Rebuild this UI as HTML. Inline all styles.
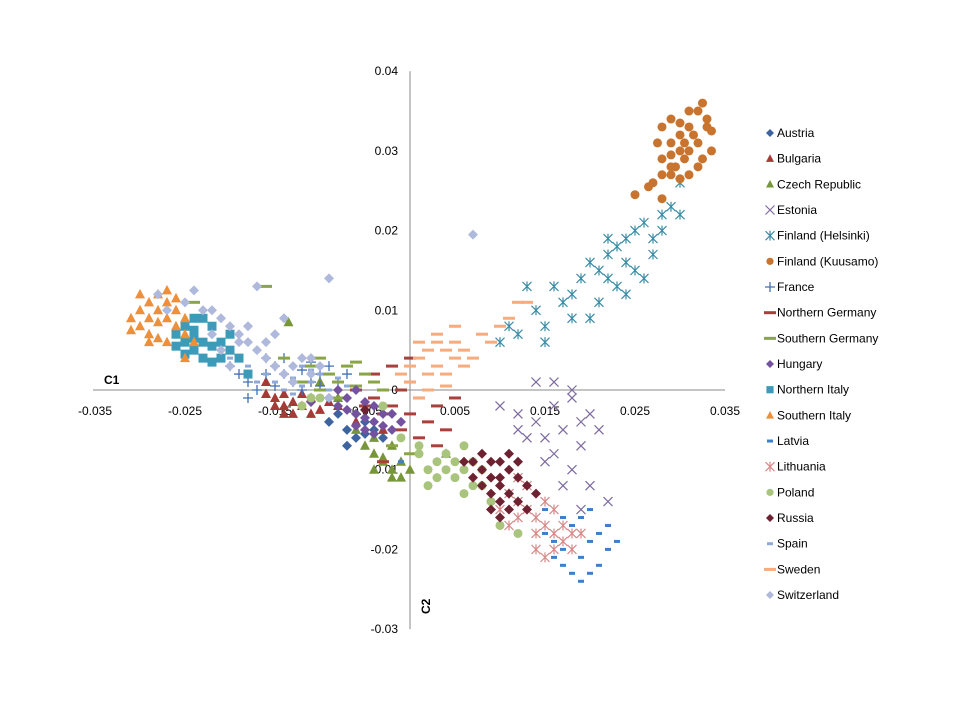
<!DOCTYPE html>
<html><head><meta charset="utf-8"><style>
html,body{margin:0;padding:0;background:#fff;width:960px;height:720px;overflow:hidden;font-family:"Liberation Sans",sans-serif}
svg text{font-family:"Liberation Sans",sans-serif;font-size:12px;fill:#000}
</style></head><body>
<svg id="chart" width="960" height="720" xmlns="http://www.w3.org/2000/svg"></svg>
<script>
const xTicks=[-0.035,-0.025,-0.015,-0.005,0.005,0.015,0.025,0.035];
const xTickLabels=["-0.035","-0.025","-0.015","-0.005","0.005","0.015","0.025","0.035"];
const yTicks=[0.04,0.03,0.02,0.01,0,-0.01,-0.02,-0.03];
const yTickLabels=["0.04","0.03","0.02","0.01","0","-0.01","-0.02","-0.03"];
const seriesNames=["Austria","Bulgaria","Czech Republic","Estonia","Finland (Helsinki)","Finland (Kuusamo)","France","Northern Germany","Southern Germany","Hungary","Northern Italy","Southern Italy","Latvia","Lithuania","Poland","Russia","Spain","Sweden","Switzerland"];
// values in units of 0.001
const austria=[[-7,-5],[-6,-6],[-5,-4],[-8,-3],[-4,-5],[-6,-3],[-9,-4],[-3,-6],[-7,-7],[-5,-5.5]];
const bulgaria=[[-15,-1],[-14,-2],[-13,-1.5],[-16,-0.5],[-12,-2],[-11,-1],[-14,-0.5],[-13,-3],[-10,-2.5],[-15,-2],[-12,-0.5],[-9,-1.5],[-11,-3],[-8,-2],[-6,-4],[-3,-5],[-16,1],[-14,-3]];
const czech=[[-5,-7],[-4,-8],[-3,-9],[-2,-10],[-1,-9],[-4,-6],[-2,-7],[-6,-5],[-13.5,8.5],[-1,-11],[0,-10],[-3,-8.5],[-8,-1],[-10,1],[4,-8],[-2,-11],[-4,-10]];
const estonia=[[10,-2],[12,-3],[14,-4],[16,-2],[18,0],[17,-5],[15,-6],[19,-4],[13,-6],[16,-8],[18,-10],[20,-12],[19,-7],[17,-12],[15,-9],[21,-5],[14,1],[16,1],[22,-14],[12,-5],[19,-15],[18,-1],[20,-3]];
const finHelsinki=[[12,7],[14,10],[15,8],[17,11],[18,12],[19,14],[20,16],[21,15],[22,17],[23,18],[24,19],[25,20],[26,21],[27,19],[28,22],[29,23],[30,22],[21,11],[23,13],[25,15],[27,17],[16,13],[18,9],[20,9],[22,14],[24,12],[26,14],[28,20],[10,6],[11,8],[13,13],[15,6],[30,26],[24,16],[22,19]];
const finKuusamo=[[25,24.5],[26.5,25.5],[27,26],[28,24],[29,27],[29.5,28],[30.5,29],[31,30],[32,31],[33,33],[33.5,32.5],[32.5,36],[32,35],[31,33],[30,32],[29,31],[28,29],[29,29.5],[30,30],[30.5,31],[31.5,32],[32.5,29],[33.5,30],[28,33],[29,34],[30,26.5],[31,27],[32,28],[27.5,31],[30,33.5],[31,35],[29,28],[33,34],[28,27]];
const france=[[-18,1],[-16,2],[-15,3],[-14,2],[-13,1],[-12,2.5],[-11,1],[-10,2],[-9,3],[-8,1],[-17,0],[-19,2],[-15,0.5],[-12,0],[-10,0.5],[-7,2],[-14,4],[-16,4],[-20,3],[-11,3.5],[-18,-1]];
const nGermany=[[-6,0],[-4,-1],[-2,-2],[0,-3],[2,-4],[-1,0],[1,-1],[3,-2],[-3,-3],[0,1],[-2,3],[4,-5],[2,0],[-5,-2],[1,-6],[-1,-5],[5,-1],[0,4],[-4,2],[3,-7],[-3,-9]];
const sGermany=[[-12,1],[-10,0],[-9,2],[-8,1],[-7,3],[-6,0.5],[-5,2],[-11,3],[-8,-1],[-4,1],[-3,0],[-14,4],[-24,11],[-16,13],[-10,4],[-6,3.5],[-2,-7],[0,-8]];
const hungary=[[-9,-1],[-8,-2],[-7,-2.5],[-6,-3],[-5,-3.5],[-4,-4],[-3,-4.5],[-2,-5],[-7,-1],[-6,0],[-5,-1.5],[-4,-2],[-3,-3],[-8,0],[-5,-5],[-2,-3],[-1,-4],[-11,-1.5],[-6,-4.5],[-4,-5.5]];
const nItaly=[[-26,7],[-25,6],[-24,5],[-23,4],[-25,8],[-24,7.5],[-23,6],[-22,5.5],[-21,6],[-20,5],[-19,4],[-22,8],[-24,9],[-25,4.5],[-26,5.5],[-21,4],[-18,2],[-20,7],[-23,9],[-22,3.5],[-24,6.5]];
const sItaly=[[-31,9],[-30,8],[-29,7],[-28,8.5],[-27,9],[-26,8],[-30,10],[-29,11],[-28,10],[-27,11],[-26,10],[-31,7.5],[-29,6],[-28,6.5],[-27,6],[-25,7],[-30,12],[-28,12],[-26,11.5],[-25,9],[-24,6],[-27,12.5],[-29,9],[-25,4]];
const latvia=[[15,-18],[16,-19],[17,-20],[18,-17],[19,-21],[20,-19],[21,-18],[22,-20],[17,-16],[19,-16],[21,-22],[18,-23],[20,-23],[16,-21],[22,-17],[19,-24],[15,-15],[20,-15],[-1,-9],[14,-13],[23,-19],[17,-22]];
const lithuania=[[11,-13],[12,-14],[13,-15],[14,-16],[15,-17],[16,-18],[17,-19],[18,-20],[12,-16],[14,-18],[16,-20],[13,-12],[15,-14],[17,-17],[10,-15],[16,-15],[18,-18],[14,-20],[19,-18],[12,-11],[11,-17],[15,-21]];
const poland=[[-12,-2],[-11,-1],[-10,-1],[1,-8],[3,-9],[4,-10],[5,-11],[6,-10],[7,-12],[2,-10],[4,-8],[6,-13],[8,-12],[9,-14],[3,-11],[5,-9],[7,-9],[10,-17],[12,-18],[1,-7],[6,-7],[-1,-6],[2,-12],[8,-10],[-3,-2]];
const russia=[[7,-9],[8,-10],[9,-11],[10,-12],[11,-13],[12,-11],[10,-9],[9,-13],[11,-10],[12,-14],[8,-12],[10,-14],[11,-15],[7,-11],[13,-12],[9,-9],[12,-9],[10,-11],[8,-8],[13,-15],[11,-8],[9,-15],[14,-13],[10,-16],[6,-9],[-5,-2.5]];
const spain=[[-15,1],[-14,0],[-13,1.5],[-12,0.5],[-11,1],[-10,2],[-9,0],[-16,2],[-17,1],[-8,1.5],[-13,-0.5],[-11,2.5],[-7,0.5],[-15,3],[-18,3],[-12,3],[-20,4]];
const sweden=[[0,3],[1,4],[2,5],[3,6],[4,5],[5,4],[6,5],[3,3],[2,2],[4,2],[5,6],[1,6],[6,3],[7,4],[3,7],[0,1],[2,0],[4,0.5],[8,7],[10,8],[11,9],[12,11],[9,6],[1,-1],[-1,2],[5,8],[13,11]];
const switzerland=[[-28,12],[-25,11],[-23,10],[-21,9],[-20,8],[-19,7],[-18,6],[-17,5],[-16,4],[-15,3],[-14,2],[-13,3],[-12,4],[-11,2],[-17,13],[-18,8],[-19,6],[-20,3],[-22,7],[-21,5],[-15,7],[-9,14],[-13,1],[-11,4],[-16,6],[-22,10],[7,19.5],[-9,-1],[-14,9],[-27,10],[-24,12.5],[-10,3]];
const seriesData=[austria,bulgaria,czech,estonia,finHelsinki,finKuusamo,france,nGermany,sGermany,hungary,nItaly,sItaly,latvia,lithuania,poland,russia,spain,sweden,switzerland];
const colors=["#3E64A0","#A53A36","#77963A","#7D6A9E","#3C8DA6","#C9742E","#4470B4","#A8403C","#8AA546","#7452A0","#3C9BB8","#EF8F3A","#3C7FCC","#D9898A","#A9C47D","#6E2231","#8EA8D8","#F8AB7C","#AEB9DB"];
const shapes=["diamond","triangle","triangle","x","star","circle","plus","dash","dash","diamond","square","triangle","sdash","star","circle","diamond","sdash","dash","diamond"];

const NS="http://www.w3.org/2000/svg";
const svg=document.getElementById("chart");
const X0=410,XS=9000,Y0=390,YS=7970;
function xs(v){return X0+v*XS;}
function ys(v){return Y0-v*YS;}
function mk(tag,attrs,parent){const e=document.createElementNS(NS,tag);for(const k in attrs)e.setAttribute(k,attrs[k]);(parent||svg).appendChild(e);return e;}
const axes=mk("g",{});


mk("line",{x1:xs(-0.035)-2,x2:xs(0.035),y1:Y0,y2:Y0,stroke:"#888","stroke-width":1},axes);
mk("line",{x1:X0,x2:X0,y1:ys(0.04),y2:ys(-0.03),stroke:"#888","stroke-width":1},axes);
xTicks.forEach((t,i)=>{const tx=mk("text",{x:xs(t),y:Y0+25,"text-anchor":"middle"},axes);tx.textContent=xTickLabels[i];

});
yTicks.forEach((t,i)=>{const tx=mk("text",{x:X0-12,y:ys(t)+4,"text-anchor":"end"},axes);tx.textContent=yTickLabels[i];

});
const c1=mk("text",{x:104,y:384,"font-weight":"bold"},axes);c1.textContent="C1";


const c2=mk("text",{x:0,y:0,"font-weight":"bold",transform:"translate(430,614) rotate(-90)"},axes);c2.textContent="C2";



function marker(g,shape,cx,cy,c,s){
  s=s||1;
  if(shape==="diamond")mk("polygon",{points:`${cx},${cy-5*s} ${cx+5*s},${cy} ${cx},${cy+5*s} ${cx-5*s},${cy}`,fill:c},g);
  else if(shape==="triangle")mk("polygon",{points:`${cx},${cy-5.5*s} ${cx+5*s},${cy+4*s} ${cx-5*s},${cy+4*s}`,fill:c},g);
  else if(shape==="square")mk("rect",{x:cx-4.5*s,y:cy-4.5*s,width:9*s,height:9*s,fill:c},g);
  else if(shape==="circle")mk("circle",{cx:cx,cy:cy,r:4.5*s,fill:c},g);
  else if(shape==="x")mk("path",{d:`M${cx-4.5} ${cy-4.5}L${cx+4.5} ${cy+4.5}M${cx-4.5} ${cy+4.5}L${cx+4.5} ${cy-4.5}`,stroke:c,"stroke-width":1.2},g);
  else if(shape==="star")mk("path",{d:`M${cx-4.5} ${cy-4.5}L${cx+4.5} ${cy+4.5}M${cx-4.5} ${cy+4.5}L${cx+4.5} ${cy-4.5}M${cx} ${cy-5}L${cx} ${cy+5}`,stroke:c,"stroke-width":1.2},g);
  else if(shape==="plus")mk("path",{d:`M${cx-5} ${cy}L${cx+5} ${cy}M${cx} ${cy-5}L${cx} ${cy+5}`,stroke:c,"stroke-width":1.3},g);
  else if(shape==="dash")mk("rect",{x:cx-6,y:cy-1.5,width:12,height:3,fill:c},g);
  else if(shape==="sdash")mk("rect",{x:cx-3,y:cy-1.5,width:6,height:3,fill:c},g);
}
seriesData.forEach((arr,si)=>{
  const g=mk("g",{});
  
  
  arr.forEach(p=>marker(g,shapes[si],xs(p[0]/1000),ys(p[1]/1000),colors[si]));
});
const lg=mk("g",{});


seriesNames.forEach((n,i)=>{
  const y=133+i*25.67;
  const e=mk("g",{},lg);
  
  
  marker(e,shapes[i],770,y,colors[i],0.8);
  const t=mk("text",{x:777,y:y+4},e);t.textContent=n;
});
</script>
</body></html>
